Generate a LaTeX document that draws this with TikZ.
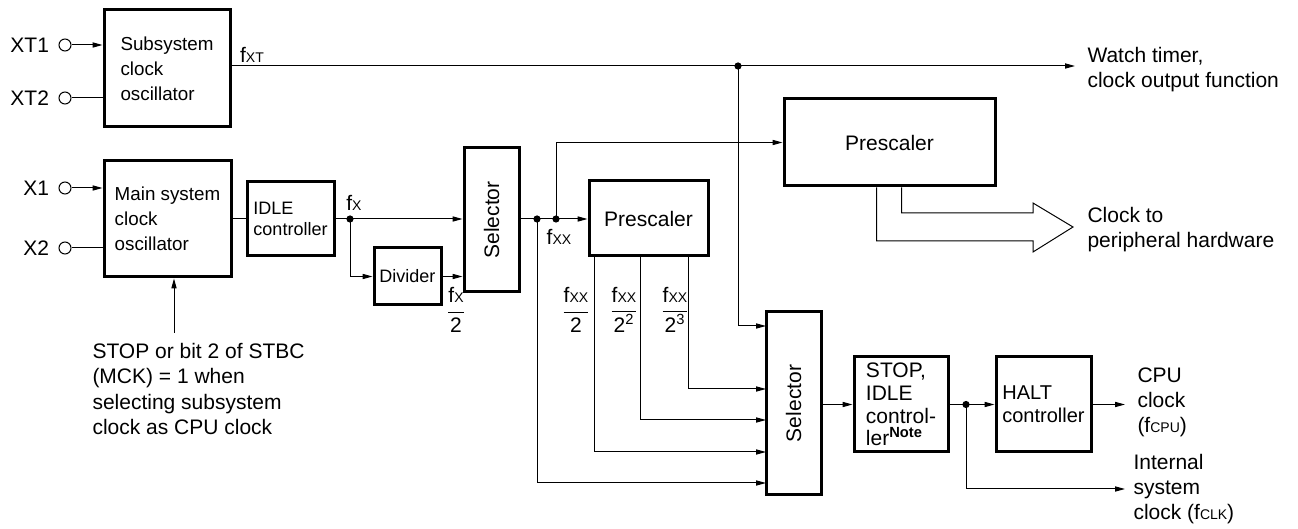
\documentclass[tikz,border=0pt]{standalone}
\usepackage{fontspec}
\setmainfont{Liberation Sans}
\usetikzlibrary{arrows.meta, positioning}
\newcommand{\fsub}[1]{f{\scriptsize #1}}

\begin{document}
\begin{tikzpicture}[
  x=0.5pt, y=-0.5pt, line width=0.5pt,
  font=\fontsize{10.5}{12.6}\selectfont,
  box/.style={draw, line width=1.5pt, inner sep=0pt, align=left},
  tight/.style={font=\fontsize{10.5}{11.4}\selectfont},
  small/.style={font=\fontsize{9.4}{12.6}\selectfont},
  txt/.style={inner sep=0pt, align=left, anchor=west},
  term/.style={draw, circle, inner sep=0pt, minimum size=6pt},
  arr/.style={-{Triangle[length=5pt, width=2.6pt]}}
]
\useasboundingbox (0,0) rectangle (1298,529);

% blocks
\node[box, small, minimum width=63pt, minimum height=58.5pt] (sub) at (167,68.5) {Subsystem\\clock\\oscillator};
\node[box, small, minimum width=63.5pt, minimum height=58pt] (mainosc) at (167.5,219) {Main system\\clock\\oscillator};
\node[box, font=\fontsize{9}{10.2}\selectfont, minimum width=43.5pt, minimum height=37pt] (idle) at (290.5,219) {IDLE\\controller};
\node[box, font=\fontsize{9}{10}\selectfont, minimum width=33.5pt, minimum height=28.5pt] (div) at (407.5,276.5) {Divider};
\node[box, minimum width=27.5pt, minimum height=72pt] (sel1) at (491.5,220) {\rotatebox{90}{Selector}};
\node[box, minimum width=59.5pt, minimum height=37.5pt] (pre1) at (648.5,218.5) {Prescaler};
\node[box, minimum width=105.5pt, minimum height=43.5pt] (pre2) at (889.5,142.5) {Prescaler};
\node[box, minimum width=27.5pt, minimum height=91.5pt] (sel2) at (793.5,403.5) {\rotatebox{90}{Selector}};
\node[box, tight, minimum width=47pt, minimum height=47.5pt] (stopc) at (901,404.5) {STOP,\\IDLE\\control-\\ler\textsuperscript{\bfseries Note}};
\node[box, font=\fontsize{10}{11.4}\selectfont, minimum width=47.5pt, minimum height=47.5pt] (halt) at (1043.5,404.5) {HALT\\controller};

% pins
\foreach \nm/\y/\lab in {xt1/45/XT1, xt2/98/XT2, x1/188/X1, x2/248/X2} {
  \node[term] (\nm) at (65,\y) {};
  \node[left=4.5pt of \nm, inner sep=0pt] (\nm-l) {\lab};
}
\draw[arr] (xt1) -- (xt1 -| sub.west);
\draw (xt2) -- (xt2 -| sub.west);
\draw[arr] (x1) -- (x1 -| mainosc.west);
\draw (x2) -- (x2 -| mainosc.west);

% junctions and free ends
\coordinate (jxt) at (738,66);
\coordinate (wt) at (1075,66);
\coordinate (jfx) at (350,219);
\coordinate (jsel) at (537,219);
\coordinate (jfxx) at (556,219);
\coordinate (jcpu) at (966,404.5);
\coordinate (cpuend) at (1125,404.5);
\coordinate (clkend) at (1125,489);
\coordinate (stp) at (174,333);
\foreach \n/\y in {a/326, b/389, c/420, d/452, e/483}
  \coordinate (s2\n) at (766,\y);

% subsystem clock
\draw[arr] (sub.east |- jxt) -- (wt);
\draw[arr] (jxt) |- (s2a);

% main clock path
\draw (mainosc) -- (idle);
\draw[arr] (idle.east) -- (sel1.west |- jfx);
\draw[arr] (jfx) |- (div.west);
\draw[arr] (div.east) -- (div.east -| sel1.west);
\draw[arr] (sel1.east |- jfx) -- (pre1.west |- jfx);
\draw[arr] (jfxx) |- (pre2.west);
\draw[arr] (jsel) |- (s2e);
\draw[arr] ([xshift=3.5pt]pre1.south west) |- (s2d);
\draw[arr] ([xshift=26.5pt]pre1.south west) |- (s2c);
\draw[arr] ([xshift=50.5pt]pre1.south west) |- (s2b);
\draw[arr] (stp) -- (stp |- mainosc.south);

% peripheral bus arrow
\draw ([xshift=47pt]pre2.south west) |- (1033,241) -- (1033,252) -- (1073,227)
  -- (1033,203) -- (1033,213) -| ([xshift=59.5pt]pre2.south west);

% cpu side
\draw[arr] (stopc.west -| sel2.east) -- (stopc.west);
\draw[arr] (stopc.east) -- (halt.west);
\draw[arr] (halt.east) -- (cpuend);
\draw[arr] (jcpu) |- (clkend);

\foreach \p in {jxt, jfx, jsel, jfxx, jcpu}
  \fill (\p) circle (1.8pt);

% labels
\node[inner sep=0pt] (lfxt) at (252,55) {\fsub{XT}};
\node[inner sep=0pt] (lfx) at (354,203) {\fsub{X}};
\node[inner sep=0pt] (lfxx) at (559,237) {\fsub{XX}};
\node[inner sep=0pt] (q0) at (456,310) {$\displaystyle\frac{\mbox{\fsub{X}}}{\mbox{2}}$};
\foreach \x/\d [count=\i] in {576/{2}, 624/{2\textsuperscript{2}}, 675/{2\textsuperscript{3}}}
  \node[inner sep=0pt] (q\i) at (\x,310) {$\displaystyle\frac{\mbox{\fsub{XX}}}{\mbox{\d}}$};

\node[txt] (watch) at (1087,69.5) {Watch timer,\\clock output function};
\node[txt] (periph) at (1087,229.5) {Clock to\\peripheral hardware};
\node[txt] (cpu) at (1137,402.5) {CPU\\clock\\(\fsub{CPU})};
\node[txt] (intclk) at (1133,489) {Internal\\system\\clock (\fsub{CLK})};
\node[txt] (note) at (92,389) {STOP or bit 2 of STBC\\(MCK) = 1 when\\selecting subsystem\\clock as CPU clock};
\end{tikzpicture}
\end{document}
